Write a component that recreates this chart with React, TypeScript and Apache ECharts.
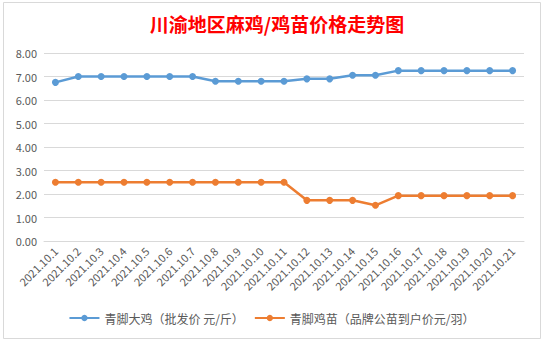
import React, { useEffect, useRef } from "react";
import * as echarts from "echarts";

const categories = [
  "2021.10.1", "2021.10.2", "2021.10.3", "2021.10.4", "2021.10.5", "2021.10.6", "2021.10.7",
  "2021.10.8", "2021.10.9", "2021.10.10", "2021.10.11", "2021.10.12", "2021.10.13", "2021.10.14",
  "2021.10.15", "2021.10.16", "2021.10.17", "2021.10.18", "2021.10.19", "2021.10.20", "2021.10.21",
];
const bigChicken = [6.75, 7.0, 7.0, 7.0, 7.0, 7.0, 7.0, 6.8, 6.8, 6.8, 6.8, 6.9, 6.9, 7.05, 7.05, 7.25, 7.25, 7.25, 7.25, 7.25, 7.25];
const chicks = [2.5, 2.5, 2.5, 2.5, 2.5, 2.5, 2.5, 2.5, 2.5, 2.5, 2.5, 1.73, 1.73, 1.73, 1.52, 1.93, 1.93, 1.93, 1.93, 1.93, 1.93];
const seriesNames = ["青脚大鸡（批发价 元/斤）", "青脚鸡苗（品牌公苗到户价元/羽）"];
const title = "川渝地区麻鸡/鸡苗价格走势图";

const FONT = "'Noto Sans CJK SC', 'Noto Sans', sans-serif";

export default function App() {
  const ref = useRef<HTMLDivElement>(null);
  useEffect(() => {
    const chart = echarts.init(ref.current!, undefined, { renderer: "svg" });
    chart.setOption({
      animation: false,
      backgroundColor: "#ffffff",
      textStyle: { fontFamily: FONT },
      title: {
        text: title,
        left: 272,
        textAlign: "center",
        top: 9,
        textStyle: { color: "#ff0000", fontSize: 19, fontWeight: "bold", fontFamily: FONT },
      },
      graphic: [
        {
          type: "rect",
          shape: { x: 3.5, y: 2.5, width: 537, height: 336 },
          style: { fill: "none", stroke: "#d9d9d9", lineWidth: 1 },
          silent: true,
        },
      ],
      legend: {
        bottom: 13,
        left: "center",
        itemWidth: 30,
        itemHeight: 8,
        itemGap: 10,
        textStyle: { color: "#595959", fontSize: 12, fontFamily: FONT },
        data: seriesNames,
      },
      grid: { left: 44, right: 19, top: 53, bottom: 101 },
      xAxis: {
        type: "category",
        data: categories,
        boundaryGap: true,
        axisLine: { show: true, lineStyle: { color: "#d9d9d9", width: 1 } },
        axisTick: { show: false },
        axisLabel: { rotate: 45, interval: 0, margin: 8, color: "#595959", fontSize: 11, fontFamily: FONT },
      },
      yAxis: {
        type: "value",
        min: 0,
        max: 8,
        interval: 1,
        axisLine: { show: false },
        axisTick: { show: false },
        splitLine: { lineStyle: { color: "#d9d9d9", width: 1 } },
        axisLabel: { margin: 7, color: "#595959", fontSize: 11, fontFamily: FONT, formatter: (v: number) => v.toFixed(2) },
      },
      series: [
        {
          name: seriesNames[0],
          type: "line",
          data: bigChicken,
          symbol: "circle",
          symbolSize: 7,
          lineStyle: { color: "#5b9bd5", width: 2.5 },
          itemStyle: { color: "#5b9bd5" },
        },
        {
          name: seriesNames[1],
          type: "line",
          data: chicks,
          symbol: "circle",
          symbolSize: 7,
          lineStyle: { color: "#ed7d31", width: 2.5 },
          itemStyle: { color: "#ed7d31" },
        },
      ],
    });
    return () => chart.dispose();
  }, []);
  return <div ref={ref} style={{ position: "fixed", left: 0, top: 0, width: 543, height: 342 }} />;
}
